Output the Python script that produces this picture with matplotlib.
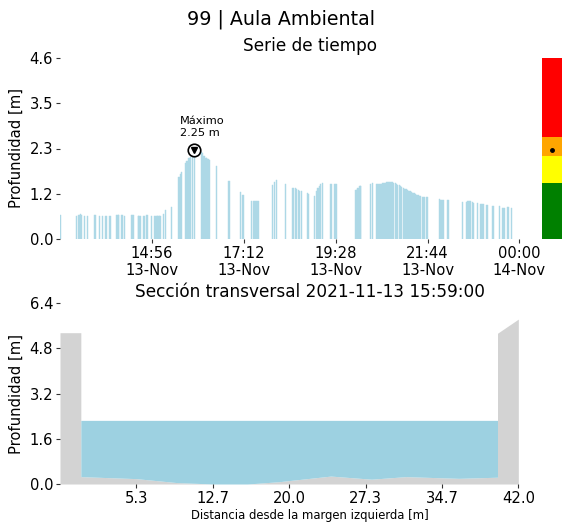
import pandas as pd
import matplotlib
matplotlib.use('Agg')
import matplotlib.pyplot as plt
import matplotlib.dates as mdates
import numpy as np

# Serie de tiempo (hora, profundidad en m) - 13-Nov-2021
horas = ['12:41', '13:04', '13:08', '13:10', '13:12', '13:16', '13:21', '13:31', '13:33', '13:38',
         '13:43', '13:48', '13:54', '14:04', '14:06', '14:07', '14:11', '14:12', '14:16', '14:26',
         '14:27', '14:29', '14:36', '14:37', '14:39', '14:44', '14:45', '14:48', '14:50', '14:56',
         '15:00', '15:02', '15:04', '15:05', '15:07', '15:08', '15:13', '15:16', '15:25', '15:36',
         '15:38', '15:40', '15:46', '15:48', '15:51', '15:53', '15:56', '15:59', '16:10', '16:11',
         '16:13', '16:16', '16:17', '16:19', '16:21', '16:32', '16:50', '17:07', '17:11', '17:24',
         '17:27', '17:30', '17:33', '17:54', '17:58', '18:01', '18:14', '18:25', '18:28', '18:30',
         '18:33', '18:35', '18:37', '18:46', '18:48', '18:57', '19:00', '19:02', '19:04', '19:06',
         '19:08', '19:21', '19:27', '19:29', '19:58', '20:00', '20:01', '20:04', '20:05', '20:20',
         '20:22',
         '20:28', '20:30', '20:32', '20:34', '20:36', '20:38', '20:40', '20:42', '20:44', '20:46',
         '20:48', '20:50', '20:52', '20:54', '20:56', '20:58', '21:00', '21:02', '21:04', '21:06',
         '21:08', '21:10', '21:12', '21:14', '21:16', '21:18', '21:20', '21:22', '21:24', '21:26',
         '21:28', '21:30', '21:32', '21:34', '21:36', '21:38', '21:40', '21:42', '21:44',
         '22:02', '22:04', '22:07', '22:13', '22:15', '22:36', '22:42', '22:44', '22:46', '22:48',
         '22:50', '22:52', '22:58', '23:03', '23:06', '23:12', '23:21', '23:30', '23:35', '23:37',
         '23:42', '23:44', '23:48']
profundidad = [0.61, 0.59, 0.61, 0.63, 0.61, 0.59, 0.59, 0.61, 0.61, 0.59,
               0.59, 0.59, 0.59, 0.60, 0.60, 0.60, 0.62, 0.62, 0.59, 0.60,
               0.60, 0.60, 0.58, 0.58, 0.58, 0.58, 0.58, 0.60, 0.60, 0.58,
               0.59, 0.59, 0.58, 0.58, 0.58, 0.58, 0.64, 0.74, 0.82, 1.58,
               1.66, 1.71, 1.94, 1.99, 2.05, 2.09, 2.13, 2.25, 2.22, 2.18,
               2.11, 2.05, 2.05, 2.03, 2.00, 1.86, 1.47, 1.19, 1.12, 0.97,
               0.97, 0.97, 0.97, 1.36, 1.46, 1.50, 1.41, 1.29, 1.29, 1.27,
               1.25, 1.23, 1.22, 1.18, 1.14, 1.09, 1.21, 1.29, 1.35, 1.39,
               1.42, 1.41, 1.41, 1.39, 1.25, 1.27, 1.30, 1.34, 1.35, 1.41,
               1.42,
               1.39, 1.40, 1.40, 1.41, 1.41, 1.42, 1.43, 1.43, 1.44, 1.45,
               1.45, 1.45, 1.44, 1.43, 1.42, 1.40, 1.38, 1.36, 1.34, 1.32,
               1.30, 1.28, 1.27, 1.25, 1.23, 1.21, 1.19, 1.17, 1.16, 1.14,
               1.13, 1.11, 1.10, 1.09, 1.08, 1.08, 1.07, 1.07, 1.07,
               1.02, 1.00, 0.98, 0.98, 0.98, 0.94, 0.95, 0.96, 0.97, 0.96,
               0.95, 0.92, 0.92, 0.89, 0.89, 0.86, 0.85, 0.84, 0.80, 0.80,
               0.82, 0.82, 0.79]

# Niveles de alerta (limites superiores) y colores
niveles = [1.42, 2.11, 2.60, 4.6]
colores_alerta = ['green', 'yellow', 'orange', 'red']

# Seccion transversal
dist = [-2.0, 0.0, 0.0, 5.3, 9.2, 12.7, 16.0, 19.0, 24.0, 27.9, 31.2, 36.3, 40.0, 40.0, 42.0]
cota = [5.35, 5.35, 0.26, 0.19, 0.05, 0.0, 0.0, 0.08, 0.28, 0.17, 0.26, 0.20, 0.24, 5.33, 5.83]
nivel_agua = 2.25

tiempos = pd.to_datetime(['2021-11-13 ' + h for h in horas])
prof = np.array(profundidad)
i_max = int(np.argmax(prof))

fs_tick = 10.6

fig = plt.figure(figsize=(5.62, 5.24), dpi=100)
fig.suptitle('99 | Aula Ambiental', fontsize=13.7, y=1 - 19 / 524, va='center')

# --- Serie de tiempo ---
ax1 = fig.add_axes([60 / 562, 1 - 239 / 524, 500 / 562, 181 / 524])
ax1.bar(tiempos, prof, width=1.8 / 1440, color='lightblue', edgecolor='lightblue', linewidth=0.3)
ax1.plot(tiempos[i_max], prof[i_max], 'o', ms=9, mfc='white', mec='black', mew=1.2, zorder=5)
ax1.plot(tiempos[i_max], prof[i_max] + 0.01, 'v', ms=5, color='black', zorder=6)
ax1.text(pd.Timestamp('2021-11-13 15:37'), 2.57, 'Máximo\n%.2f m' % prof[i_max],
         fontsize=8.2, ha='left', va='bottom')
ax1.set_xlim(pd.Timestamp('2021-11-13 12:40'), pd.Timestamp('2021-11-14 01:00'))
ax1.set_ylim(0, 4.6)
yt1 = np.linspace(0, 4.6, 5)
ax1.set_yticks(yt1)
ax1.set_yticklabels(['0.0', '1.2', '2.3', '3.5', '4.6'])
xt1 = pd.to_datetime(['2021-11-13 14:56', '2021-11-13 17:12', '2021-11-13 19:28',
                      '2021-11-13 21:44', '2021-11-14 00:00'])
ax1.set_xticks(xt1)
ax1.xaxis.set_major_formatter(mdates.DateFormatter('%H:%M\n%d-%b'))
ax1.set_ylabel('Profundidad [m]', fontsize=fs_tick)
ax1.set_title('Serie de tiempo', fontsize=12.2, pad=5)

# --- Semaforo de alerta ---
axc = fig.add_axes([542 / 562, 1 - 239 / 524, 20 / 562, 181 / 524])
base = 0
for tope, c in zip(niveles, colores_alerta):
    axc.bar(0, tope - base, bottom=base, width=1, color=c)
    base = tope
axc.plot(0, prof[i_max], 'o', ms=2.5, color='black')
axc.set_xlim(-0.5, 0.5)
axc.set_ylim(0, 4.6)
axc.axis('off')

# --- Seccion transversal ---
ax2 = fig.add_axes([60 / 562, 1 - 484 / 524, 500 / 562, 181 / 524])
ax2.fill_between(dist, cota, 0, color='lightgray', linewidth=0)
xa = dist[2:13]
za = cota[2:13]
ax2.fill_between(xa, za, nivel_agua, color='#9dd1e1', linewidth=0)
ax2.set_xlim(-2, 46)
ax2.set_ylim(0, 6.4)
ax2.set_yticks(np.linspace(0, 6.4, 5))
ax2.set_yticklabels(['%.1f' % v for v in np.linspace(0, 6.4, 5)])
xt2 = np.linspace(-2, 42, 7)[1:]
ax2.set_xticks(xt2)
ax2.set_xticklabels(['%.1f' % v for v in xt2])
ax2.set_xlabel('Distancia desde la margen izquierda [m]', fontsize=8.4, labelpad=2)
ax2.set_ylabel('Profundidad [m]', fontsize=fs_tick)
ax2.set_title('Sección transversal 2021-11-13 15:59:00', fontsize=12.2, pad=4)

for ax in (ax1, ax2):
    for s in ax.spines.values():
        s.set_visible(False)
    ax.tick_params(labelsize=fs_tick, length=3, color='#333333', pad=2)

plt.savefig('out.png', dpi=100)
